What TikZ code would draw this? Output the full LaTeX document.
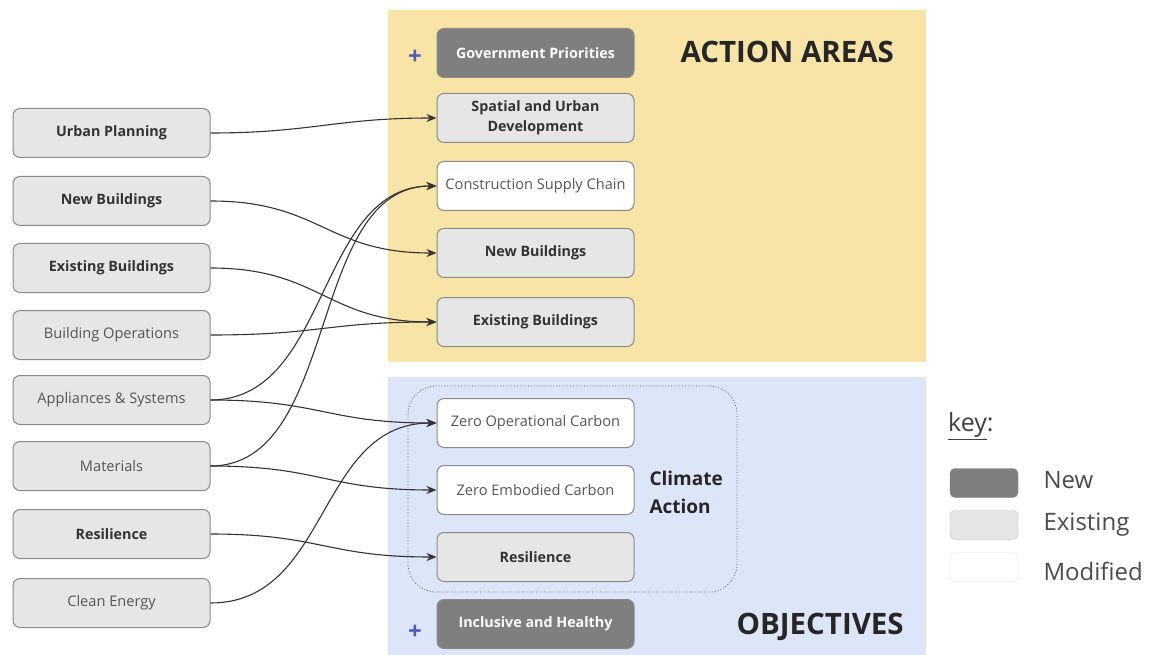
\documentclass[tikz,border=0pt]{standalone}
\usepackage{fontspec}
\setmainfont{Open Sans}
\usetikzlibrary{arrows.meta}
\definecolor{yel}{HTML}{F8E4A6}
\definecolor{blu}{HTML}{DCE6F8}
\definecolor{exfill}{HTML}{E6E6E6}
\definecolor{newfill}{HTML}{7F7F7F}
\definecolor{bord}{HTML}{8A8A8A}
\definecolor{txt}{HTML}{333333}
\definecolor{lite}{HTML}{555555}
\definecolor{plus}{HTML}{4A5BC4}
\tikzset{
  box/.style={draw=bord, line width=1pt, rounded corners=7pt, minimum width=197pt, minimum height=49pt, align=center, inner sep=2pt},
  existbox/.style={box, fill=exfill, text=txt, font=\fontsize{14.3}{17}\selectfont\bfseries},
  existlite/.style={box, fill=exfill, text=lite, font=\fontsize{14.6}{17}\selectfont},
  newbox/.style={box, fill=newfill, text=white, font=\fontsize{14.3}{17}\selectfont\bfseries},
  modbox/.style={box, fill=white, text=lite, font=\fontsize{14.6}{17}\selectfont},
  conn/.style={draw=txt, line width=1.1pt, -{Stealth[length=10pt,width=8pt]}},
  big/.style={font=\fontsize{29.5}{32}\selectfont\bfseries, text=black!85},
  keytxt/.style={font=\fontsize{24}{26}\selectfont, text=black!70, anchor=west},
  plussign/.style={font=\fontsize{24}{26}\selectfont\bfseries, text=plus}
}
\begin{document}
\begin{tikzpicture}[x=1pt,y=-1pt]
\useasboundingbox (0,0) rectangle (1157,655);
\fill[white] (0,0) rectangle (1157,655);
% background panels
\fill[yel] (388,10) rectangle (926,362);
\fill[blu] (388,377) rectangle (926,655);
% left column
\node[existbox] (lup) at (111.5,133) {Urban Planning};
\node[existbox] (lnb) at (111.5,201) {New Buildings};
\node[existbox] (leb) at (111.5,268) {Existing Buildings};
\node[existlite] (lbo) at (111.5,335) {Building Operations};
\node[existlite] (las) at (111.5,400) {Appliances \& Systems};
\node[existlite] (lma) at (111.5,466) {Materials};
\node[existbox] (lre) at (111.5,534) {Resilience};
\node[existlite] (lce) at (111.5,603) {Clean Energy};
% action areas
\node[newbox] (rgp) at (535.5,53) {Government Priorities};
\node[existbox, font=\fontsize{14.3}{20}\selectfont\bfseries] (rsu) at (535.5,118) {Spatial and Urban\\Development};
\node[modbox] (rcs) at (535.5,186) {Construction Supply Chain};
\node[existbox] (rnb) at (535.5,253) {New Buildings};
\node[existbox] (reb) at (535.5,322) {Existing Buildings};
\node[plussign] (p1) at (415,57) {+};
\node[big, anchor=west] (aa) at (677,52) {ACTION AREAS};
% objectives
\draw[draw=black!65, line width=0.8pt, dotted, rounded corners=28pt] (408,386) rectangle (737,592);
\node[modbox] (rzo) at (535.5,423) {Zero Operational Carbon};
\node[modbox] (rze) at (535.5,490) {Zero Embodied Carbon};
\node[existbox] (rre) at (535.5,557) {Resilience};
\node[newbox] (rih) at (535.5,624) {Inclusive and Healthy};
\node[plussign] (p2) at (415,632) {+};
\node[font=\fontsize{19}{28}\selectfont\bfseries, text=black!85, align=left, anchor=west] (ca) at (646,492) {Climate\\Action};
\node[big, anchor=west] (ob) at (733,627) {OBJECTIVES};
% key
\node[font=\fontsize{25}{27}\selectfont, text=black!75, anchor=west, inner sep=0pt] (key) at (948,426) {\underline{key}:};
\node[draw=newfill, fill=newfill, rounded corners=5pt, minimum width=68pt, minimum height=29pt, inner sep=0pt] (kn) at (984,483) {};
\node[draw=black!25, fill=exfill, rounded corners=5pt, minimum width=68pt, minimum height=29pt, inner sep=0pt] (ke) at (984,525) {};
\node[draw=black!12, fill=white, rounded corners=5pt, minimum width=68pt, minimum height=29pt, inner sep=0pt] (km) at (984,567) {};
\node[keytxt] (kt1) at (1040,480) {New};
\node[keytxt] (kt2) at (1040,525) {Existing};
\node[keytxt] (kt3) at (1040,571) {Modified};
% connectors
\draw[conn] (lup.east) .. controls +(100,0) and +(-100,0) .. (rsu.west);
\draw[conn] (lnb.east) .. controls +(110,0) and +(-110,0) .. (rnb.west);
\draw[conn] (leb.east) .. controls +(110,0) and +(-110,0) .. (reb.west);
\draw[conn] (lbo.east) .. controls +(110,0) and +(-110,0) .. (reb.west);
\draw[conn] (las.east) .. controls +(120,0) and +(-120,0) .. (rcs.west);
\draw[conn] (las.east) .. controls +(110,0) and +(-110,0) .. (rzo.west);
\draw[conn] (lma.east) .. controls +(130,0) and +(-130,0) .. (rcs.west);
\draw[conn] (lma.east) .. controls +(110,0) and +(-110,0) .. (rze.west);
\draw[conn] (lre.east) .. controls +(110,0) and +(-110,0) .. (rre.west);
\draw[conn] (lce.east) .. controls +(120,0) and +(-120,0) .. (rzo.west);
\end{tikzpicture}
\end{document}
